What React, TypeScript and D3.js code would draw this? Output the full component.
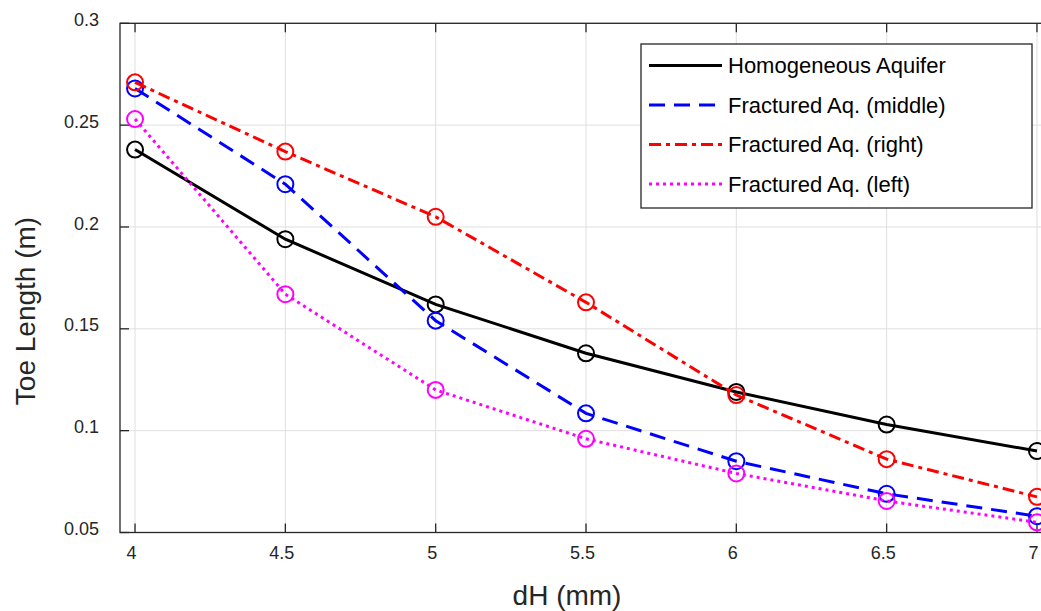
import * as d3 from 'd3';
import React, { useEffect, useRef } from 'react';

// dH (mm)
const dH = [4, 4.5, 5, 5.5, 6, 6.5, 7];
// toe length (m) per series
const homogeneous = [0.238, 0.194, 0.162, 0.138, 0.119, 0.103, 0.09];
const fracMiddle = [0.268, 0.221, 0.154, 0.1085, 0.085, 0.069, 0.058];
const fracRight = [0.271, 0.237, 0.205, 0.163, 0.1175, 0.086, 0.0675];
const fracLeft = [0.253, 0.167, 0.12, 0.096, 0.079, 0.0655, 0.055];

const seriesNames = ['Homogeneous Aquifer', 'Fractured Aq. (middle)', 'Fractured Aq. (right)', 'Fractured Aq. (left)'];
const xTicks = [4, 4.5, 5, 5.5, 6, 6.5, 7];
const yTicks = [0.05, 0.1, 0.15, 0.2, 0.25, 0.3];

const W = 1041, H = 611;

const App = () => {
    const ref = useRef(null);

    useEffect(() => {
        const svg = d3.select(ref.current);
        svg.selectAll('*').remove();

        const x = d3.scaleLinear().domain([3.95, 7.05]).range([120, 1052]);
        const y = d3.scaleLinear().domain([0.05, 0.3]).range([532.5, 23.3]);
        const axisCol = '#262626';
        const font = 'Liberation Sans, Arial, sans-serif';

        const styles = [
            { color: '#000000', dash: null },
            { color: '#0000ff', dash: '16,9' },
            { color: '#ff0000', dash: '12,5,4,5' },
            { color: '#ff00ff', dash: '3,4' },
        ];
        const data = [homogeneous, fracMiddle, fracRight, fracLeft];

        // grid
        const grid = svg.append('g');
        xTicks.forEach(t => grid.append('line')
            .attr('x1', x(t)).attr('x2', x(t)).attr('y1', y(0.05)).attr('y2', y(0.3))
            .attr('stroke', '#dfdfdf').attr('stroke-width', 1));
        yTicks.forEach(t => grid.append('line')
            .attr('x1', x(3.95)).attr('x2', x(7.05)).attr('y1', y(t)).attr('y2', y(t))
            .attr('stroke', '#dfdfdf').attr('stroke-width', 1));

        // frame
        svg.append('rect')
            .attr('x', x(3.95)).attr('y', y(0.3))
            .attr('width', x(7.05) - x(3.95)).attr('height', y(0.05) - y(0.3))
            .attr('fill', 'none').attr('stroke', axisCol).attr('stroke-width', 1.3);

        // axes
        const xAxis = d3.axisBottom(x).tickValues(xTicks).tickSize(0)
            .tickFormat(d => String(d));
        const gx = svg.append('g').attr('transform', `translate(0,${y(0.05)})`).call(xAxis);
        gx.select('.domain').remove();
        gx.selectAll('text').attr('dy', 0).attr('y', 26).attr('x', -4)
            .attr('font-size', 18).attr('font-family', font).attr('fill', axisCol);

        const yAxis = d3.axisLeft(y).tickValues(yTicks).tickSize(0)
            .tickFormat(d => String(d));
        const gy = svg.append('g').attr('transform', `translate(${x(3.95)},0)`).call(yAxis);
        gy.select('.domain').remove();
        gy.selectAll('text').attr('x', -21).attr('dy', '0.12em')
            .attr('font-size', 18).attr('font-family', font).attr('fill', axisCol);

        // inner tick marks
        xTicks.forEach(t => {
            svg.append('line').attr('x1', x(t)).attr('x2', x(t)).attr('y1', y(0.05)).attr('y2', y(0.05) - 9)
                .attr('stroke', axisCol).attr('stroke-width', 1.3);
            svg.append('line').attr('x1', x(t)).attr('x2', x(t)).attr('y1', y(0.3)).attr('y2', y(0.3) + 9)
                .attr('stroke', axisCol).attr('stroke-width', 1.3);
        });
        yTicks.forEach(t => {
            svg.append('line').attr('x1', x(3.95)).attr('x2', x(3.95) + 9).attr('y1', y(t)).attr('y2', y(t))
                .attr('stroke', axisCol).attr('stroke-width', 1.3);
        });

        // axis labels
        svg.append('text').attr('x', 567).attr('y', 605).attr('text-anchor', 'middle')
            .attr('font-size', 28).attr('font-family', font).attr('fill', axisCol).text('dH (mm)');
        svg.append('text').attr('transform', `translate(35,311) rotate(-90)`).attr('text-anchor', 'middle')
            .attr('font-size', 28).attr('font-family', font).attr('fill', axisCol).text('Toe Length (m)');

        // series
        const line = d3.line<number>().x((d, i) => x(dH[i])).y(d => y(d));
        data.forEach((vals, k) => {
            const st = styles[k];
            svg.append('path').datum(vals).attr('d', line)
                .attr('fill', 'none').attr('stroke', st.color).attr('stroke-width', 3)
                .attr('stroke-dasharray', st.dash);
            svg.append('g').selectAll('circle').data(vals).enter().append('circle')
                .attr('cx', (d, i) => x(dH[i])).attr('cy', d => y(d)).attr('r', 8)
                .attr('fill', 'none').attr('stroke', st.color).attr('stroke-width', 2);
        });

        // legend
        const lg = svg.append('g');
        lg.append('rect').attr('x', 641).attr('y', 44).attr('width', 391).attr('height', 164)
            .attr('fill', '#ffffff').attr('stroke', axisCol).attr('stroke-width', 1.3);
        seriesNames.forEach((name, k) => {
            const yy = 65.5 + k * 39.5;
            const st = styles[k];
            lg.append('line').attr('x1', 649).attr('x2', 722).attr('y1', yy).attr('y2', yy)
                .attr('stroke', st.color).attr('stroke-width', 3).attr('stroke-dasharray', st.dash);
            lg.append('text').attr('x', 728).attr('y', yy).attr('dy', '0.35em')
                .attr('font-size', 22).attr('font-family', font).attr('fill', '#000')
                .text(name);
        });
    }, []);

    return (
        <div style={{ position: 'absolute', left: 0, top: 0 }}>
            <svg ref={ref} width={W} height={H} style={{ display: 'block', background: '#fff' }}></svg>
        </div>
    );
};

export default App;
